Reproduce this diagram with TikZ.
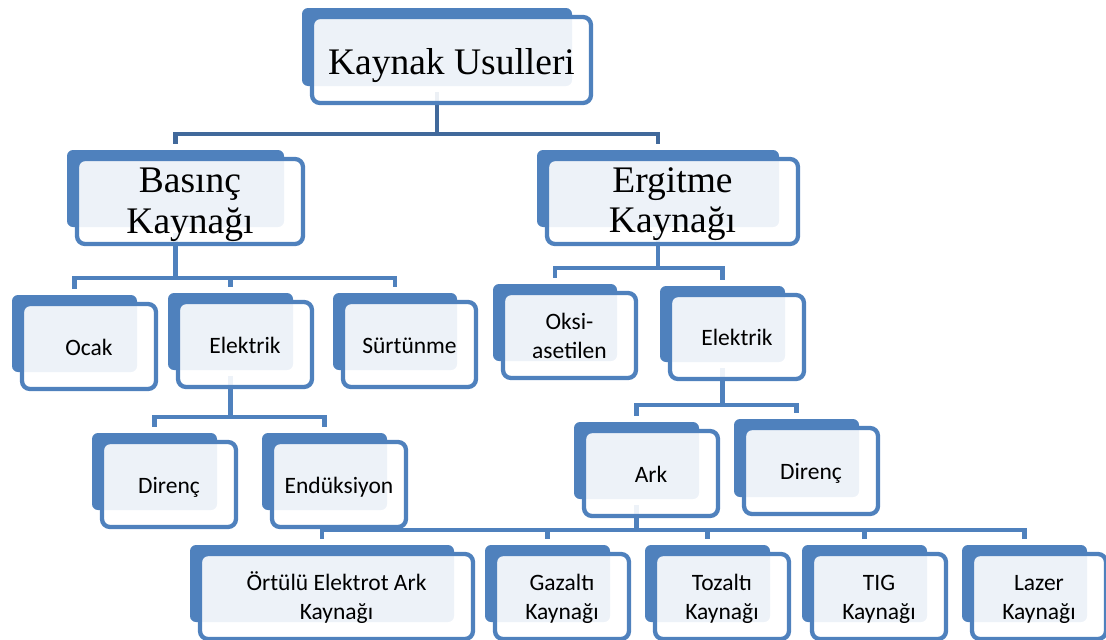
\documentclass[tikz,border=0pt]{standalone}
\usepackage{fontspec}
\setmainfont{Liberation Serif}
\newfontfamily\calib{Carlito}
\usetikzlibrary{backgrounds}
\definecolor{sablue}{HTML}{4F81BD}
\definecolor{sadark}{HTML}{41699B}
\newcommand\bigf{\fontsize{37.5}{40.5}\selectfont}
\newcommand\smallf{\calib\fontsize{23.5}{29}\selectfont}
\newcommand\tx[2]{\rule{0pt}{#1}\smash{#2}}
\newcommand\sm[1]{\smash{#1}}
\newcommand\kutu[7]{%
  \node[backbox, minimum width={(#4-#2)*1pt}, minimum height={(#5-#3)*1pt}] (#1b) at ({(#2+#4)/2},{(#3+#5)/2}) {};
  \node[frontbox, #6, minimum width={(#4-#2+9)*1pt}, minimum height={(#5-#3+8)*1pt}] (#1) at ({(#2+#4)/2+14.5},{(#3+#5)/2+13}) {#7};
}
\begin{document}
\begin{tikzpicture}[x=1pt,y=-1pt,
  backbox/.style={rectangle, rounded corners=6pt, fill=sablue, inner sep=0pt, outer sep=0pt},
  frontbox/.style={rectangle, rounded corners=8pt, draw=sablue, line width=4.3pt, fill=white, fill opacity=0.9, text opacity=1, inner sep=0pt, outer sep=0pt, align=center},
  bigtxt/.style={font=\bigf},
  smalltxt/.style={font=\smallf},
  conn/.style={draw=sablue, line width=4.8pt, shorten <=6pt, shorten >=6pt},
  conntop/.style={conn, draw=sadark}]
\useasboundingbox (0,0) rectangle (1106,640);
\coordinate (L1) at (0,134);
\coordinate (L2L) at (0,278);
\coordinate (L2R) at (0,268);
\coordinate (L3L) at (0,417);
\coordinate (L3R) at (0,405);
\coordinate (L4) at (0,530);
% boxes
\kutu{k}{302}{8}{572}{86}{bigtxt}{\tx{29pt}{Kaynak Usulleri}}
\kutu{bas}{67}{150}{284}{227}{bigtxt}{\tx{23pt}{Basınç}\\\sm{Kaynağı}}
\kutu{erg}{537}{150}{779}{227}{bigtxt}{\tx{22pt}{Ergitme}\\\sm{Kaynağı}}
\kutu{ocak}{12}{295}{137}{372}{smalltxt}{\tx{17.4pt}{Ocak}}
\kutu{elL}{168}{293}{293}{370}{smalltxt}{\tx{17.4pt}{Elektrik}}
\kutu{sur}{333}{293}{457}{370}{smalltxt}{\tx{17.4pt}{Sürtünme}}
\kutu{dirL}{92}{433}{217}{510}{smalltxt}{\tx{17.4pt}{Direnç}}
\kutu{end}{262}{433}{387}{510}{smalltxt}{\tx{17.4pt}{Endüksiyon}}
\kutu{oksi}{493}{284}{617}{361}{smalltxt}{\tx{17.4pt}{Oksi-}\\\sm{asetilen}}
\kutu{elR}{660}{286}{785}{362}{smalltxt}{\tx{17.4pt}{Elektrik}}
\kutu{ark}{574}{422}{699}{499}{smalltxt}{\tx{17.4pt}{Ark}}
\kutu{dirR}{734}{419}{859}{497}{smalltxt}{\tx{17.4pt}{Direnç}}
\kutu{ort}{190}{545}{454}{622}{smalltxt}{\tx{17.4pt}{Örtülü Elektrot Ark}\\\sm{Kaynağı}}
\kutu{gaz}{485}{545}{610}{622}{smalltxt}{\tx{17.4pt}{Gazaltı}\\\sm{Kaynağı}}
\kutu{toz}{645}{545}{770}{622}{smalltxt}{\tx{17.4pt}{Tozaltı}\\\sm{Kaynağı}}
\kutu{tig}{802}{545}{927}{622}{smalltxt}{\tx{17.4pt}{TIG}\\\sm{Kaynağı}}
\kutu{laz}{962}{545}{1087}{622}{smalltxt}{\tx{17.4pt}{Lazer}\\\sm{Kaynağı}}
% connectors behind the boxes
\begin{pgfonlayer}{background}
\draw[conntop] (kb.south) -- (kb.south |- L1) -| (basb.north);
\draw[conntop] (kb.south) -- (kb.south |- L1) -| (ergb.north);
\draw[conn] (basb.south) -- (basb.south |- L2L) -| (ocakb.north);
\draw[conn] (basb.south) -- (basb.south |- L2L) -| (elLb.north);
\draw[conn] (basb.south) -- (basb.south |- L2L) -| (surb.north);
\draw[conn] (ergb.south) -- (ergb.south |- L2R) -| (oksib.north);
\draw[conn] (ergb.south) -- (ergb.south |- L2R) -| (elRb.north);
\draw[conn] (elLb.south) -- (elLb.south |- L3L) -| (dirLb.north);
\draw[conn] (elLb.south) -- (elLb.south |- L3L) -| (endb.north);
\draw[conn] (elRb.south) -- (elRb.south |- L3R) -| (arkb.north);
\draw[conn] (elRb.south) -- (elRb.south |- L3R) -| (dirRb.north);
\draw[conn] (arkb.south) -- (arkb.south |- L4) -| (ortb.north);
\draw[conn] (arkb.south) -- (arkb.south |- L4) -| (gazb.north);
\draw[conn] (arkb.south) -- (arkb.south |- L4) -| (tozb.north);
\draw[conn] (arkb.south) -- (arkb.south |- L4) -| (tigb.north);
\draw[conn] (arkb.south) -- (arkb.south |- L4) -| (lazb.north);
\end{pgfonlayer}
\end{tikzpicture}
\end{document}
